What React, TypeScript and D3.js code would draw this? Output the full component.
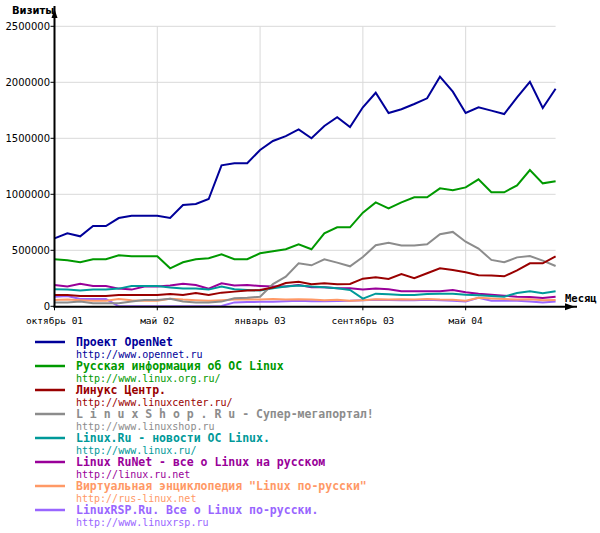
import React from "react";
import * as d3 from "d3";

const W = 600;
const H = 533;

const monthTickIdx = [0, 8, 16, 24, 32];
const monthTickLabels = ["октябрь 01", "май 02", "январь 03", "сентябрь 03", "май 04"];
const yTicks = [0, 500000, 1000000, 1500000, 2000000, 2500000];

// values in thousands of visits, Oct 2001 .. Jan 2005 (40 months)
const openNet = [607, 652, 625, 717, 717, 788, 809, 809, 809, 788, 904, 913, 958, 1259, 1277, 1277, 1396, 1476, 1520, 1580, 1500, 1610, 1688, 1601, 1777, 1907, 1726, 1759, 1806, 1857, 2050, 1916, 1726, 1777, 1747, 1717, 1866, 2005, 1771, 1943];
const linuxOrg = [420, 411, 393, 420, 420, 455, 446, 446, 446, 339, 393, 420, 429, 464, 420, 420, 473, 491, 509, 554, 509, 652, 705, 705, 836, 928, 875, 928, 973, 973, 1053, 1036, 1062, 1134, 1018, 1018, 1080, 1217, 1098, 1116];
const linuxCenter = [101, 101, 92, 92, 92, 101, 101, 101, 101, 110, 101, 119, 101, 122, 131, 140, 146, 167, 208, 220, 196, 205, 196, 199, 247, 259, 244, 288, 250, 295, 339, 324, 304, 277, 274, 268, 321, 384, 384, 446];
const linuxShop = [33, 33, 42, 27, 27, 27, 42, 57, 57, 68, 42, 33, 33, 42, 71, 77, 86, 199, 265, 384, 366, 420, 390, 357, 440, 545, 568, 542, 542, 553, 643, 664, 577, 515, 414, 393, 437, 449, 408, 360];
const linuxRu = [152, 149, 140, 149, 149, 158, 182, 182, 182, 167, 158, 158, 149, 176, 152, 146, 140, 161, 176, 185, 176, 170, 161, 146, 68, 113, 107, 101, 101, 110, 113, 113, 104, 98, 92, 86, 119, 134, 116, 134];
const linuxRuNet = [190, 176, 202, 182, 182, 158, 149, 176, 176, 185, 202, 190, 158, 205, 185, 190, 182, 176, 176, 190, 170, 170, 161, 161, 149, 158, 153, 134, 134, 134, 134, 146, 125, 113, 104, 95, 86, 83, 74, 86];
const rusLinux = [57, 60, 55, 50, 50, 65, 55, 50, 50, 68, 60, 55, 50, 55, 60, 62, 60, 65, 60, 62, 60, 55, 58, 50, 55, 62, 60, 62, 60, 65, 60, 58, 50, 77, 70, 65, 60, 62, 55, 57];
const linuxRsp = [86, 92, 65, 65, 65, 0, 0, 0, 0, 0, 0, 0, 0, 3, 35, 38, 40, 40, 45, 50, 45, 45, 48, 50, 55, 58, 57, 55, 55, 58, 55, 50, 42, 77, 50, 50, 50, 42, 33, 42];

const seriesNames = [
  "Проект OpenNet",
  "Русская информация об ОС Linux",
  "Линукс Центр.",
  "L i n u x S h o p . R u - Супер-мегапортал!",
  "Linux.Ru - новости ОС Linux.",
  "Linux RuNet - все о Linux на русском",
  "Виртуальная энциклопедия \"Linux по-русски\"",
  "LinuxRSP.Ru. Все о Linux по-русски.",
];
const seriesUrls = [
  "http://www.opennet.ru",
  "http://www.linux.org.ru/",
  "http://www.linuxcenter.ru/",
  "http://www.linuxshop.ru",
  "http://www.linux.ru/",
  "http://linux.ru.net",
  "http://rus-linux.net",
  "http://www.linuxrsp.ru",
];
const seriesColors = ["#000099", "#009900", "#990000", "#8c8c8c", "#009999", "#990099", "#ff9966", "#9966ff"];
const seriesData = [openNet, linuxOrg, linuxCenter, linuxShop, linuxRu, linuxRuNet, rusLinux, linuxRsp];

const mono = "'DejaVu Sans Mono', 'Liberation Mono', monospace";
const sans = "'DejaVu Sans', 'Liberation Sans', sans-serif";

export default function App() {
  const x = d3.scaleLinear().domain([0, 39]).range([54.5, 555.6]);
  const y = d3.scaleLinear().domain([0, 2500000]).range([306.3, 26.3]);
  const line = d3
    .line<number>()
    .x((_, i) => x(i))
    .y((d) => y(d * 1000));

  const drawOrder = [7, 6, 5, 4, 3, 2, 1, 0];

  return (
    <div style={{ position: "absolute", left: 0, top: 0 }}>
      <svg width={W} height={H} style={{ display: "block", background: "#fff" }}>
        {/* grid */}
        {yTicks.slice(1).map((t) => (
          <line key={"gy" + t} x1={x(0)} x2={x(39)} y1={y(t)} y2={y(t)} stroke="#d9d9d9" strokeWidth={1} />
        ))}
        {monthTickIdx.slice(1).map((m) => (
          <line key={"gx" + m} x1={x(m)} x2={x(m)} y1={y(2500000)} y2={y(0)} stroke="#d9d9d9" strokeWidth={1} />
        ))}

        {/* series */}
        {drawOrder.map((si) => (
          <path
            key={"s" + si}
            d={line(seriesData[si]) || ""}
            fill="none"
            stroke={seriesColors[si]}
            strokeWidth={2}
            strokeLinejoin="miter"
          />
        ))}

        {/* y axis */}
        <line x1={x(0)} x2={x(0)} y1={y(0) + 1} y2={6} stroke="#000" strokeWidth={2} />
        <path d={`M${x(0)},9 L${x(0) - 3},18 L${x(0) + 3},18 Z`} fill="#000" />
        {yTicks.map((t) => (
          <g key={"yt" + t}>
            <line x1={x(0) - 4} x2={x(0)} y1={y(t)} y2={y(t)} stroke="#000" strokeWidth={1} />
            <text x={50} y={y(t)} dy="0.36em" textAnchor="end" fontFamily={sans} fontSize={10} fill="#000">
              {t}
            </text>
          </g>
        ))}
        <text x={12} y={14} fontFamily={sans} fontSize={10} fontWeight="bold" fill="#000">
          Визиты
        </text>

        {/* x axis */}
        <line x1={x(0) - 1} x2={577} y1={y(0) + 0.5} y2={y(0) + 0.5} stroke="#000" strokeWidth={2} />
        <path d={`M575,${y(0) + 0.5} L565,${y(0) - 3} L565,${y(0) + 4} Z`} fill="#000" />
        {monthTickIdx.map((m, i) => (
          <g key={"xt" + m}>
            <line x1={x(m)} x2={x(m)} y1={y(0)} y2={y(0) + 4} stroke="#000" strokeWidth={1} />
            <text x={x(m)} y={324} textAnchor="middle" fontFamily={mono} fontSize={9.5} fill="#000">
              {monthTickLabels[i]}
            </text>
          </g>
        ))}
        <text x={565} y={302} fontFamily={mono} fontSize={10.5} fontWeight="bold" fill="#000">
          Месяц
        </text>

        {/* legend */}
        {seriesNames.map((name, i) => {
          const ly = 342 + i * 24;
          return (
            <g key={"lg" + i}>
              <line x1={35} x2={65} y1={ly} y2={ly} stroke={seriesColors[i]} strokeWidth={2.5} />
              <text x={76} y={ly + 4} fontFamily={mono} fontSize={11.5} fontWeight="bold" fill={seriesColors[i]} style={{ whiteSpace: "pre" }}>
                {name}
              </text>
              <text x={76} y={ly + 15.5} fontFamily={mono} fontSize={10} fill={seriesColors[i]}>
                {seriesUrls[i]}
              </text>
            </g>
          );
        })}
      </svg>
    </div>
  );
}
